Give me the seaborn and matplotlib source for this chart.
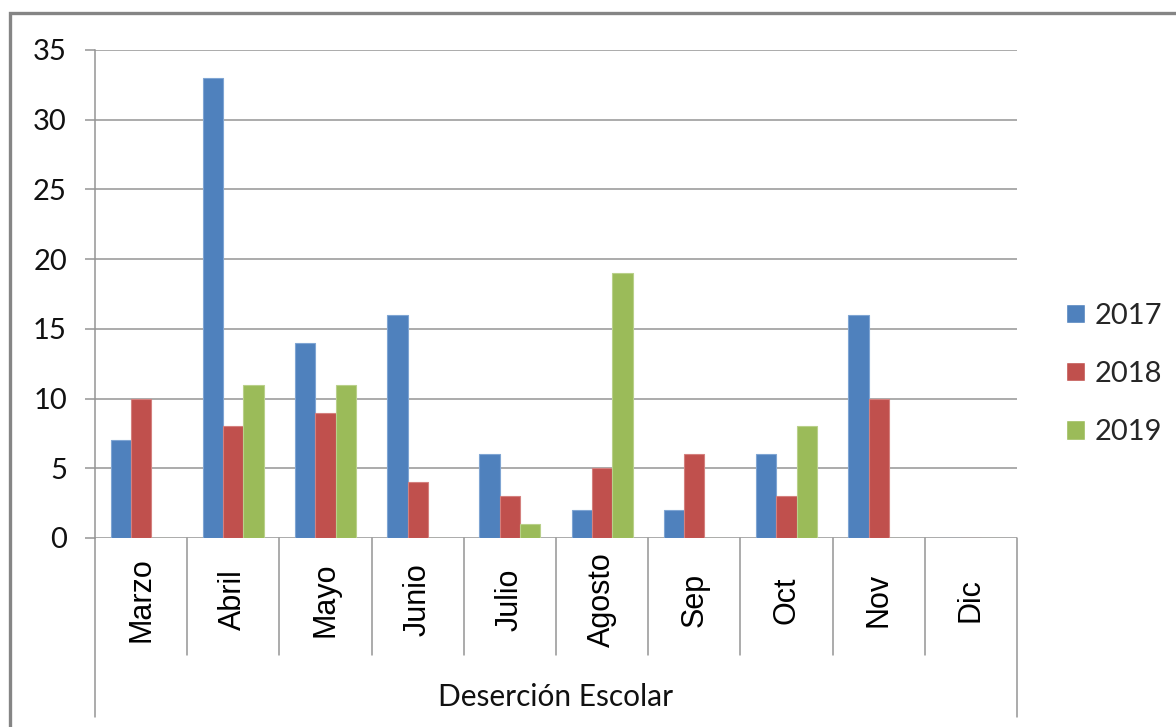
import numpy as np
import pandas as pd
import seaborn as sns
import matplotlib.pyplot as plt
import matplotlib.transforms as mtransforms
from matplotlib.patches import Rectangle

#Datos del gráfico
meses = ['Marzo', 'Abril', 'Mayo', 'Junio', 'Julio', 'Agosto', 'Sep', 'Oct', 'Nov', 'Dic']
anios = ['2017', '2018', '2019']
v2017 = [7, 33, 14, 16, 6, 2, 2, 6, 16, 0]
v2018 = [10, 8, 9, 4, 3, 5, 6, 3, 10, 0]
v2019 = [0, 11, 11, 0, 1, 19, 0, 8, 0, 0]
colores = ['#4F81BD', '#C0504D', '#9BBB59']
bordes = ['#7FA5D3', '#D4807E', '#B9D08A']

df = pd.DataFrame({
    'mes': meses * 3,
    'anio': [a for a in anios for _ in meses],
    'valor': v2017 + v2018 + v2019,
})

sns.set_style('white')
plt.rcParams['font.family'] = ['Lato', 'DejaVu Sans']

fig = plt.figure(figsize=(11.76, 7.27), dpi=100)
W, H = 1176, 727
x0, x1, ytop, ybot = 95, 1017, 50, 538
ax = fig.add_axes([x0 / W, 1 - ybot / H, (x1 - x0) / W, (ybot - ytop) / H])

sns.barplot(data=df, x='mes', y='valor', hue='anio', order=meses, hue_order=anios,
            palette=colores, width=0.66, ax=ax, saturation=1, legend=True)
for cont, ec in zip(ax.containers, bordes):
    for p in cont:
        p.set_edgecolor(ec)
        p.set_linewidth(0.8)

gris = '#959595'
ax.set_xlim(-0.5, 9.5)
ax.set_ylim(0, 35)
ax.set_yticks(np.arange(0, 36, 5))
ax.yaxis.grid(True, color=gris, linewidth=1.1)
ax.set_axisbelow(True)
ax.tick_params(axis='y', length=7.2, width=1.1, color=gris, pad=13, labelsize=21, labelcolor='#111111', left=True)
ax.set_xticks([])
ax.set_xlabel('')
ax.set_ylabel('')
for s in ['top', 'right', 'bottom']:
    ax.spines[s].set_visible(False)
ax.spines['left'].set_color(gris)
ax.spines['left'].set_linewidth(1.1)

#Separadores de categorías
trans = mtransforms.blended_transform_factory(ax.transData, ax.transAxes)
alto = ybot - ytop
for i in range(11):
    xs = i - 0.5
    y_fin = (ybot - 717) / alto if i in (0, 10) else (ybot - 655) / alto
    ax.plot([xs, xs], [0, y_fin], color=gris, linewidth=1.1, transform=trans, clip_on=False)

#Etiquetas de meses
for i, m in enumerate(meses):
    ax.text(i, (ybot - 600) / alto, m, transform=trans, rotation=90, ha='center', va='center',
            fontsize=22, family=['Liberation Sans', 'DejaVu Sans'], color='#000000')

ax.text(4.5, (ybot - 697) / alto, 'Deserción Escolar', transform=trans, ha='center', va='center',
        fontsize=21.5, color='#111111')

#Leyenda
ax.legend(loc='center left', bbox_to_anchor=(1066 / W, 1 - 374 / H), bbox_transform=fig.transFigure,
          frameon=False, fontsize=21, handlelength=0.65, handleheight=0.65, handletextpad=0.33,
          labelspacing=1.1, borderpad=0, borderaxespad=0)

#Marco del gráfico
fig.patches.append(Rectangle((10 / W, -0.05), 1.2, 1 - 13 / H + 0.05, transform=fig.transFigure,
                             fill=False, edgecolor='#858585', linewidth=2.4))

fig.savefig('out.png', dpi=100)
